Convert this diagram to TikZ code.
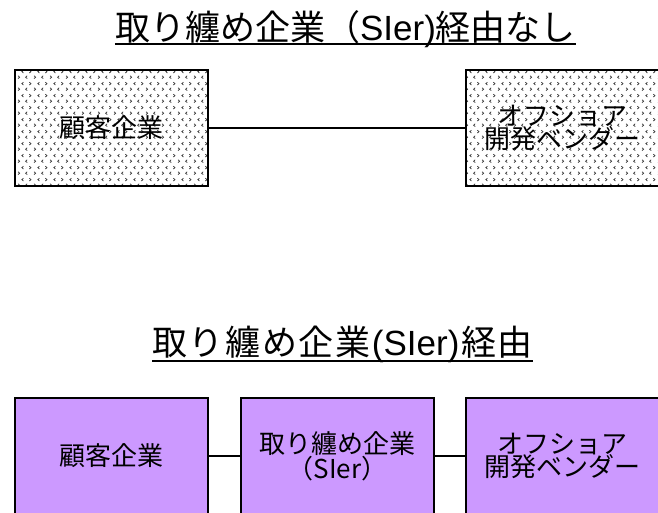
\documentclass[tikz,border=0pt]{standalone}
\usepackage{fontspec}
\setmainfont{Liberation Sans}
\newfontfamily\jp{Noto Sans CJK JP}
\usetikzlibrary{patterns}
\definecolor{lav}{RGB}{204,153,255}
\pgfdeclarepatternformonly{chev}{\pgfqpoint{0pt}{0pt}}{\pgfqpoint{16pt}{12pt}}{\pgfqpoint{16pt}{12pt}}{%
  \pgfsetlinewidth{0.75pt}%
  \pgfpathmoveto{\pgfqpoint{2.2pt}{1.5pt}}\pgfpathlineto{\pgfqpoint{3.8pt}{3pt}}\pgfpathlineto{\pgfqpoint{2.2pt}{4.5pt}}%
  \pgfpathmoveto{\pgfqpoint{11.8pt}{1.5pt}}\pgfpathlineto{\pgfqpoint{10.2pt}{3pt}}\pgfpathlineto{\pgfqpoint{11.8pt}{4.5pt}}%
  \pgfpathmoveto{\pgfqpoint{7.8pt}{7.5pt}}\pgfpathlineto{\pgfqpoint{6.2pt}{9pt}}\pgfpathlineto{\pgfqpoint{7.8pt}{10.5pt}}%
  \pgfpathmoveto{\pgfqpoint{14.2pt}{7.5pt}}\pgfpathlineto{\pgfqpoint{15.8pt}{9pt}}\pgfpathlineto{\pgfqpoint{14.2pt}{10.5pt}}%
  \pgfusepath{stroke}%
}
\newcommand{\kk}{\kern1.6pt}
\tikzset{
  box/.style={draw=black, line width=2pt, minimum width=193pt, minimum height=116pt,
    inner sep=0pt, align=center, font=\jp\fontsize{26}{23.5}\selectfont},
  dotbox/.style={box, pattern=chev, pattern color=black!80},
  purbox/.style={box, fill=lav},
  conn/.style={draw=black, line width=2pt},
  ttl/.style={inner sep=0pt, anchor=base, font=\fontsize{35}{40}\selectfont},
  uline/.style={draw=black, line width=2pt}
}
\begin{document}
\begin{tikzpicture}[x=1pt,y=-1pt]
\useasboundingbox (0,0) rectangle (658,512);
\fill[white] (0,0) rectangle (658,512);
\begin{scope}
\clip (0,0) rectangle (658,512);
% title 1
\node[ttl] (t1) at (345.5,40) {{\jp 取り纏め企業（}SIer){\jp 経由なし}};
\draw[uline] (t1.base west |- 0,44) coordinate (u1a) -- (t1.base east |- 0,44) coordinate (u1b);
% top row
\node[dotbox] (c1) at (111.5,128) {顧客企業};
\node[dotbox] (v1) at (562.5,128) {オフショア\\開発ベンダー};
\draw[conn] (c1.east) -- (v1.west);
% title 2
\node[ttl] (t2) at (342.5,355) {{\jp 取\kk り\kk 纏\kk め\kk 企\kk 業}\kk(SIer)\kk{\jp 経\kk 由}};
\draw[uline] (t2.base west |- 0,361) coordinate (u2a) -- (t2.base east |- 0,361) coordinate (u2b);
% bottom row
\node[purbox] (c2) at (111.5,456) {顧客企業};
\node[purbox] (s2) at (337.5,456) {取り纏め企業\\（SIer）};
\node[purbox] (v2) at (562.5,456) {オフショア\\開発ベンダー};
\draw[conn] (c2.east) -- (s2.west);
\draw[conn] (s2.east) -- (v2.west);
\end{scope}
\end{tikzpicture}
\end{document}
